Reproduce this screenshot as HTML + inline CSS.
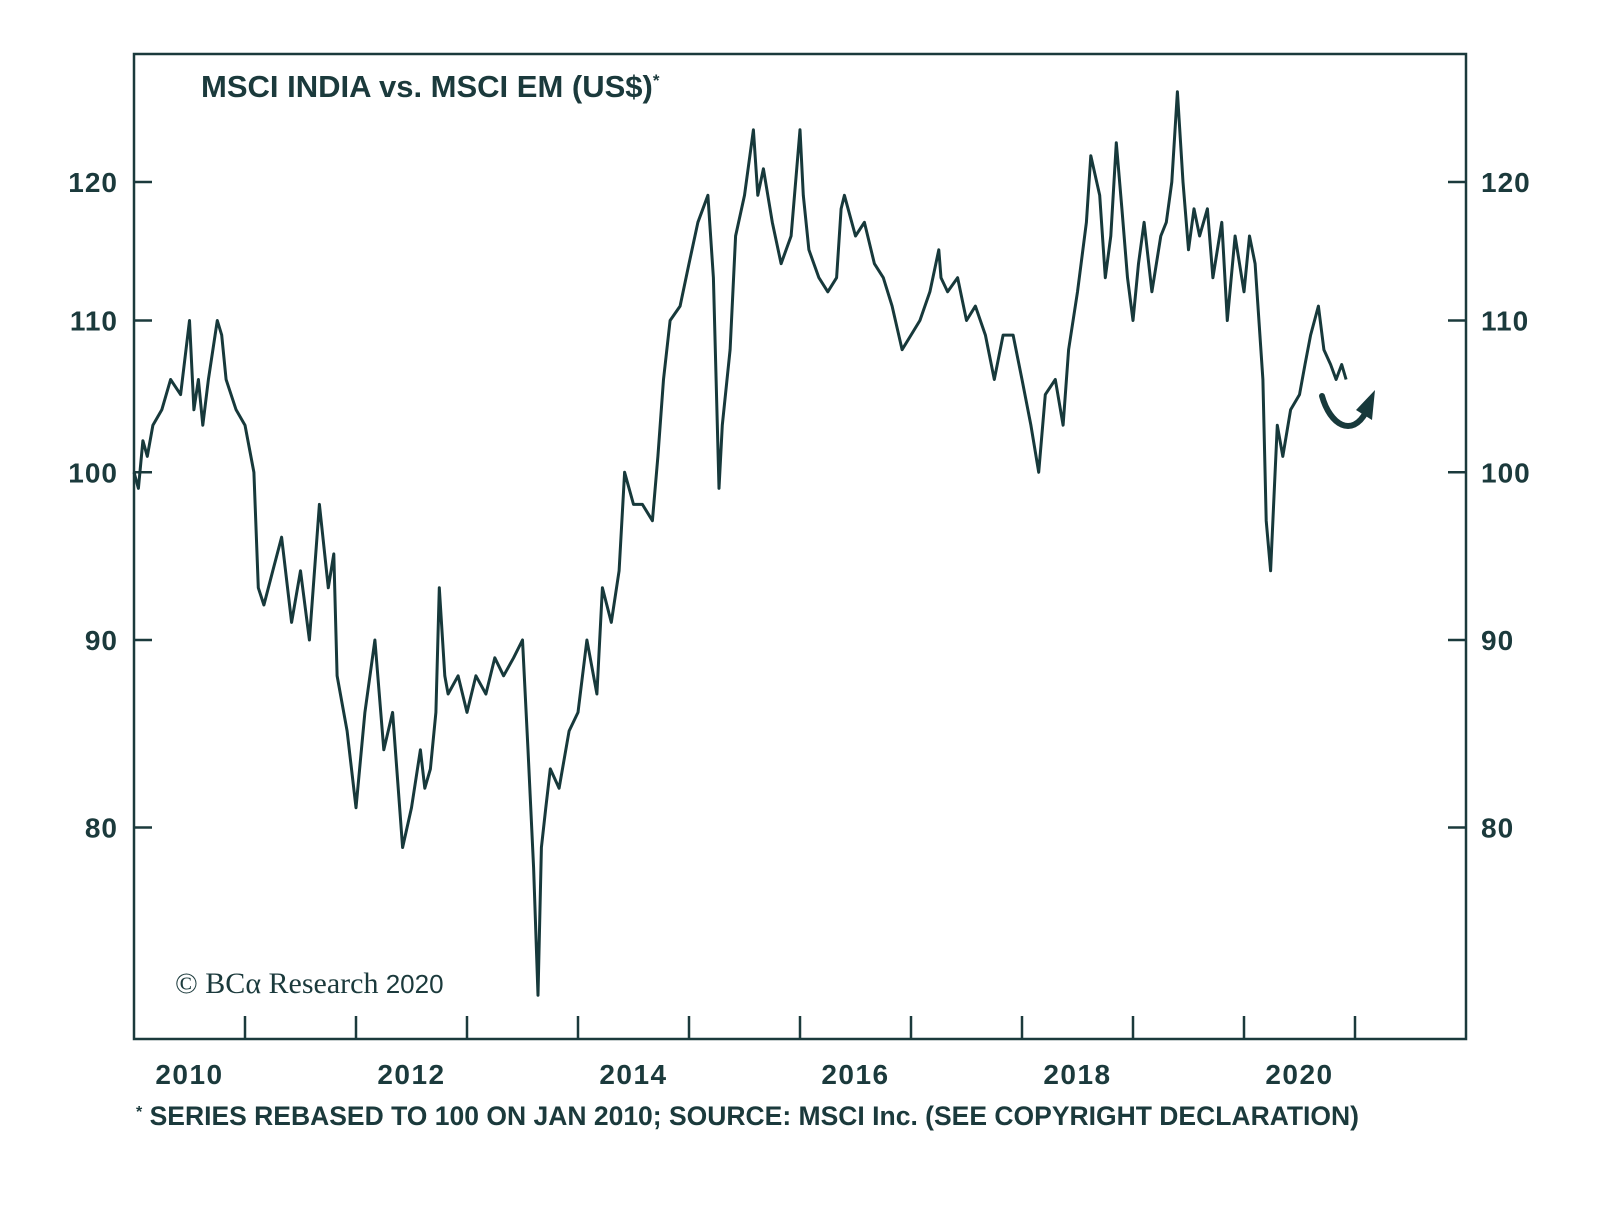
<!DOCTYPE html>
<html><head><meta charset="utf-8"><style>
html,body{margin:0;padding:0;background:#fff}
svg{display:block}
text{font-family:"Liberation Sans",sans-serif;fill:#1b3a3c}
</style></head><body>
<svg id="chart" width="1600" height="1218" viewBox="0 0 1600 1218">
<rect x="134" y="54" width="1332" height="985" fill="none" stroke="#1b3a3c" stroke-width="2.5"/>
<text x="201" y="97" font-size="31" font-weight="bold">MSCI INDIA vs. MSCI EM (US$)<tspan font-size="17" dy="-11">*</tspan></text>
<text x="175" y="993" font-size="30"><tspan style="font-family:'Liberation Serif',serif">© BCα Research</tspan><tspan font-size="26"> 2020</tspan></text>
<text x="136" y="1125" font-size="26.5" font-weight="bold"><tspan font-size="16" dy="-8">*</tspan><tspan dy="8"> SERIES REBASED TO 100 ON JAN 2010; SOURCE: MSCI Inc. (SEE COPYRIGHT DECLARATION)</tspan></text>
<g id="axes"></g>
<path id="series" fill="none" stroke="#17393b" stroke-width="3" stroke-linejoin="round"/>
<path d="M1322,396 C1330,425 1352,438 1366,412" fill="none" stroke="#17393b" stroke-width="6" stroke-linecap="round"/>
<polygon points="1375,390 1356,410 1372,420" fill="#17393b"/>
</svg>
<script>
const dates=[2010.0,2010.04,2010.08,2010.12,2010.17,2010.25,2010.33,2010.42,2010.5,2010.54,2010.58,2010.62,2010.67,2010.75,2010.79,2010.83,2010.92,
2011.0,2011.08,2011.12,2011.17,2011.25,2011.33,2011.42,2011.5,2011.58,2011.67,2011.75,2011.8,2011.83,2011.92,
2012.0,2012.08,2012.17,2012.25,2012.33,2012.42,2012.5,2012.58,2012.62,2012.67,2012.72,2012.75,2012.8,2012.83,2012.92,
2013.0,2013.08,2013.17,2013.25,2013.33,2013.42,2013.5,2013.55,2013.6,2013.64,2013.67,2013.71,2013.75,2013.83,2013.92,
2014.0,2014.08,2014.17,2014.22,2014.3,2014.37,2014.42,2014.5,2014.58,2014.67,2014.72,2014.77,2014.83,2014.92,
2015.0,2015.08,2015.17,2015.22,2015.27,2015.3,2015.37,2015.42,2015.5,2015.58,2015.62,2015.67,2015.75,2015.83,2015.92,
2016.0,2016.03,2016.08,2016.17,2016.25,2016.33,2016.37,2016.4,2016.5,2016.58,2016.67,2016.75,2016.83,2016.92,
2017.0,2017.08,2017.17,2017.25,2017.27,2017.33,2017.42,2017.5,2017.58,2017.67,2017.75,2017.83,2017.92,
2018.0,2018.08,2018.15,2018.21,2018.3,2018.37,2018.42,2018.5,2018.58,2018.62,2018.7,2018.75,2018.8,2018.85,2018.9,2018.95,
2019.0,2019.05,2019.1,2019.17,2019.25,2019.3,2019.35,2019.4,2019.45,2019.5,2019.55,2019.6,2019.67,2019.72,2019.8,2019.85,2019.92,
2020.0,2020.05,2020.1,2020.17,2020.2,2020.24,2020.28,2020.3,2020.35,2020.42,2020.5,2020.55,2020.6,2020.67,2020.72,2020.78,2020.83,2020.88,2020.92,2020.94];
const values=[100,99,102,101,103,104,106,105,110,104,106,103,106,110,109,106,104,
103,100,93,92,94,96,91,94,90,98,93,95,88,85,
81,86,90,84,86,79,81,84,82,83,86,93,88,87,88,
86,88,87,89,88,89,90,84,78,72,79,81,83,82,85,
86,90,87,93,91,94,100,98,98,97,101,106,110,111,
114,117,119,113,99,103,108,116,119,124,119,121,117,114,
116,124,119,115,113,112,113,118,119,116,117,114,113,111,
108,109,110,112,115,113,112,113,110,111,109,106,109,
109,106,103,100,105,106,103,108,112,117,122,119,113,116,123,118,
113,110,114,117,112,116,117,120,127,120,115,118,116,118,113,117,110,
116,112,116,114,106,97,94,100,103,101,104,105,107,109,111,108,107,106,107,106];
const yTicks=[80,90,100,110,120];
const xYears=[2010,2011,2012,2013,2014,2015,2016,2017,2018,2019,2020,2021];
const xLabels=[2010,2012,2014,2016,2018,2020];
const NS="http://www.w3.org/2000/svg";
function xs(t){return 134+(t-2010)*111.0;}
function ys(v){return 182+(Math.log(120)-Math.log(v))*1592;}
const g=document.getElementById('axes');
function mk(tag,attrs,txt){const e=document.createElementNS(NS,tag);for(const k in attrs)e.setAttribute(k,attrs[k]);if(txt!==undefined)e.textContent=txt;g.appendChild(e);return e;}
yTicks.forEach(v=>{const y=ys(v);
 let e=mk('line',{x1:134,x2:152,y1:y,y2:y,stroke:'#1b3a3c','stroke-width':2.5});
 
 
 e=mk('line',{x1:1448,x2:1466,y1:y,y2:y,stroke:'#1b3a3c','stroke-width':2.5});
 
 
 e=mk('text',{x:118,y:y+10,'text-anchor':'end','font-size':28,'font-weight':'bold','letter-spacing':1},v);
 
 
 e=mk('text',{x:1481,y:y+10,'font-size':28,'font-weight':'bold','letter-spacing':1},v);
 
 
});
xYears.forEach(yr=>{const x=xs(yr); if(x<=136||x>=1464)return;
 const e=mk('line',{x1:x,x2:x,y1:1016,y2:1039,stroke:'#1b3a3c','stroke-width':2.5});
 
 
});
xLabels.forEach(yr=>{
 const e=mk('text',{x:xs(yr+0.5),y:1084,'text-anchor':'middle','font-size':28,'font-weight':'bold','letter-spacing':1.5},yr);
 
 
});
let d='';
dates.forEach((t,i)=>{d+=(i?'L':'M')+xs(t).toFixed(1)+','+ys(values[i]).toFixed(1);});
document.getElementById('series').setAttribute('d',d);
</script>
</body></html>
